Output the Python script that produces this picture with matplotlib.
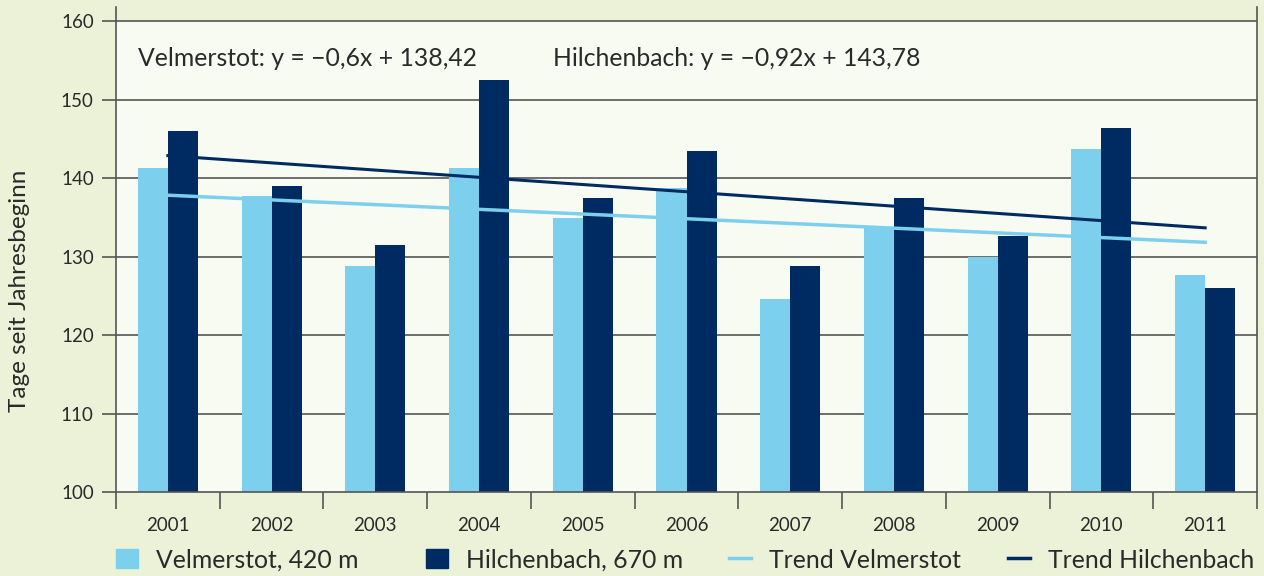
import matplotlib.pyplot as plt
import numpy as np
from matplotlib.patches import Patch
from matplotlib.lines import Line2D

plt.rcParams['font.family'] = ['Lato', 'DejaVu Sans']

years = ['2001', '2002', '2003', '2004', '2005', '2006', '2007', '2008', '2009', '2010', '2011']
velmerstot = [141.3, 137.7, 128.8, 141.3, 134.9, 138.7, 124.6, 133.8, 129.9, 143.7, 127.6]
hilchenbach = [146.0, 139.0, 131.5, 152.5, 137.5, 143.4, 128.8, 137.5, 132.6, 146.4, 126.0]
trend_v = (-0.6, 138.42)
trend_h = (-0.92, 143.78)

c_light = '#7dd0ed'
c_dark = '#002b62'
c_bg = '#ebf2d8'
c_plot = '#f8fbf1'
c_axis = '#555555'
c_text = '#2a2a2a'

W, H = 1264, 576
fig = plt.figure(figsize=(W / 100, H / 100), dpi=100, facecolor=c_bg)
ax = fig.add_axes([116 / W, 84 / H, 1141 / W, 485 / H])
ax.set_facecolor(c_bg)

x = np.arange(len(years))
w = 0.29
ax.axhspan(100, 160, color=c_plot, zorder=0, lw=0)
for v in range(110, 161, 10):
    ax.axhline(v, color=c_axis, lw=1.2, zorder=1)

ax.bar(x - w / 2, velmerstot, w, color=c_light, zorder=2)
ax.bar(x + w / 2, hilchenbach, w, color=c_dark, zorder=2)

# trend lines, x runs 1..11
n = x + 1
ax.plot(x, trend_v[0] * n + trend_v[1], color=c_light, lw=2.5, zorder=3)
ax.plot(x, trend_h[0] * n + trend_h[1], color=c_dark, lw=2.2, zorder=3)

ax.set_xlim(-0.5, len(years) - 0.5)
ax.set_ylim(100, 161.8)
ax.set_yticks(range(100, 161, 10))
ax.set_xticks(x)
ax.set_xticklabels(years)
ax.set_xticks(np.arange(-0.5, len(years)), minor=True)
ax.tick_params(axis='x', which='major', length=0, pad=18, labelsize=13.5, labelcolor=c_text)
ax.tick_params(axis='x', which='minor', length=12, width=1.2, color=c_axis)
ax.tick_params(axis='y', length=10, width=1.2, color=c_axis, labelsize=13.5,
               labelcolor=c_text, pad=6)

for s in ['left', 'right', 'bottom']:
    ax.spines[s].set_color(c_axis)
    ax.spines[s].set_linewidth(1.2)
ax.spines['top'].set_visible(False)

fig.text(20 / W, 1 - 291 / H, 'Tage seit Jahresbeginn', rotation=90, fontsize=17.5,
         color=c_text, ha='center', va='center')

ax.text(138 / W, 1 - 58 / H, 'Velmerstot: y = \u22120,6x + 138,42', transform=fig.transFigure,
        fontsize=17.8, color=c_text, va='center')
ax.text(553 / W, 1 - 58 / H, 'Hilchenbach: y = \u22120,92x + 143,78', transform=fig.transFigure,
        fontsize=17.8, color=c_text, va='center')

# legend entries placed one by one
handles = [Patch(color=c_light), Patch(color=c_dark),
           Line2D([], [], color=c_light, lw=2.5), Line2D([], [], color=c_dark, lw=2.5)]
labels = ['Velmerstot, 420 m', 'Hilchenbach, 670 m', 'Trend Velmerstot', 'Trend Hilchenbach']
starts = [116, 426, 729, 1008]
for h, lab, x0 in zip(handles, labels, starts):
    fig.legend([h], [lab], loc='center left', bbox_to_anchor=(x0 / W, 1 - 560 / H),
               frameon=False, fontsize=17.8, handlelength=0.9, handleheight=0.8,
               handletextpad=0.7, borderpad=0, borderaxespad=0, labelcolor=c_text)

plt.savefig('out.png', dpi=100, facecolor=c_bg)
